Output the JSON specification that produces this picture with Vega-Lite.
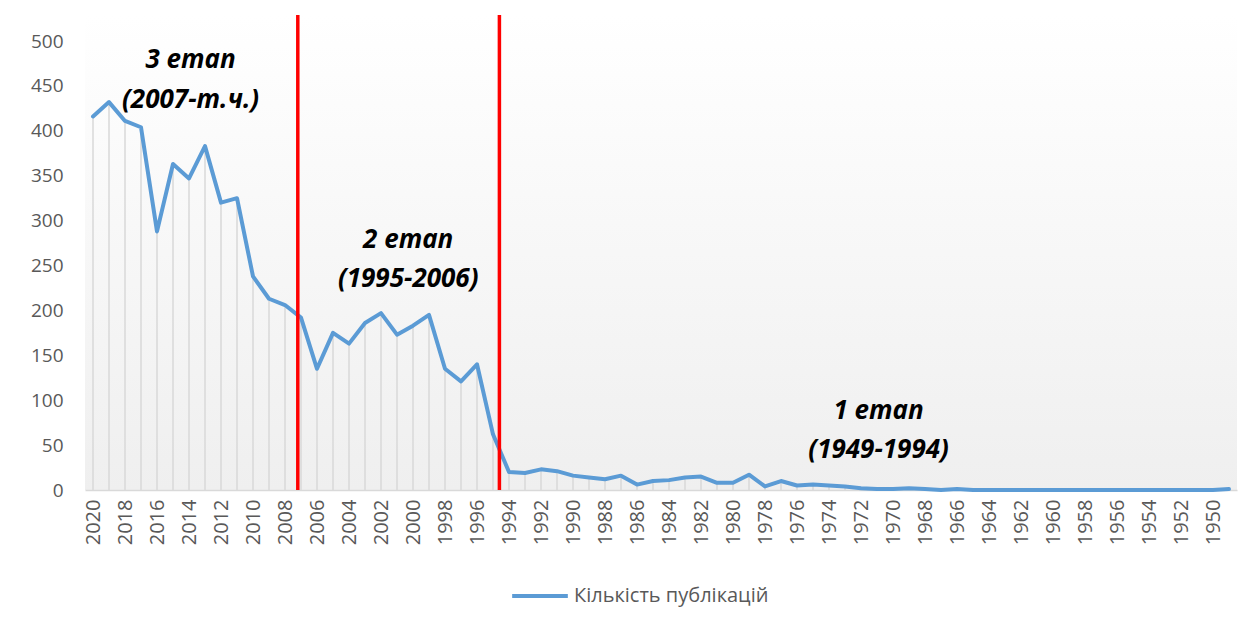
{
  "$schema": "https://vega.github.io/schema/vega-lite/v6.json",
  "width": 1152,
  "height": 475,
  "autosize": "none",
  "padding": {"left": 85, "top": 15, "right": 18, "bottom": 138},
  "background": "#ffffff",
  "config": {
    "view": {"stroke": null, "fill": {"gradient": "linear", "x1": 0, "y1": 0, "x2": 0, "y2": 1, "stops": [{"offset": 0, "color": "#ffffff"}, {"offset": 1, "color": "#efefef"}]}},
    "font": "Open Sans",
    "axisX": {"labelAngle": -90, "labelFontSize": 20, "labelColor": "#595959", "labelPadding": 9, "ticks": false, "domainColor": "#d9d9d9", "domainWidth": 1.5, "grid": false, "labelOverlap": false, "labelFlush": false, "title": null}
  },
  "datasets": {
    "pubs": [
      {"year": 2020, "count": 416}, {"year": 2019, "count": 432}, {"year": 2018, "count": 411}, {"year": 2017, "count": 404},
      {"year": 2016, "count": 288}, {"year": 2015, "count": 363}, {"year": 2014, "count": 347}, {"year": 2013, "count": 383},
      {"year": 2012, "count": 320}, {"year": 2011, "count": 325}, {"year": 2010, "count": 238}, {"year": 2009, "count": 213},
      {"year": 2008, "count": 206}, {"year": 2007, "count": 192}, {"year": 2006, "count": 135}, {"year": 2005, "count": 175},
      {"year": 2004, "count": 163}, {"year": 2003, "count": 186}, {"year": 2002, "count": 197}, {"year": 2001, "count": 173},
      {"year": 2000, "count": 183}, {"year": 1999, "count": 195}, {"year": 1998, "count": 135}, {"year": 1997, "count": 121},
      {"year": 1996, "count": 140}, {"year": 1995, "count": 62}, {"year": 1994, "count": 20}, {"year": 1993, "count": 19},
      {"year": 1992, "count": 23}, {"year": 1991, "count": 21}, {"year": 1990, "count": 16}, {"year": 1989, "count": 14},
      {"year": 1988, "count": 12}, {"year": 1987, "count": 16}, {"year": 1986, "count": 6}, {"year": 1985, "count": 10},
      {"year": 1984, "count": 11}, {"year": 1983, "count": 14}, {"year": 1982, "count": 15}, {"year": 1981, "count": 8},
      {"year": 1980, "count": 8}, {"year": 1979, "count": 17}, {"year": 1978, "count": 4}, {"year": 1977, "count": 10},
      {"year": 1976, "count": 5}, {"year": 1975, "count": 6}, {"year": 1974, "count": 5}, {"year": 1973, "count": 4},
      {"year": 1972, "count": 2}, {"year": 1971, "count": 1}, {"year": 1970, "count": 1}, {"year": 1969, "count": 2},
      {"year": 1968, "count": 1}, {"year": 1967, "count": 0}, {"year": 1966, "count": 1}, {"year": 1965, "count": 0},
      {"year": 1964, "count": 0}, {"year": 1963, "count": 0}, {"year": 1962, "count": 0}, {"year": 1961, "count": 0},
      {"year": 1960, "count": 0}, {"year": 1959, "count": 0}, {"year": 1958, "count": 0}, {"year": 1957, "count": 0},
      {"year": 1956, "count": 0}, {"year": 1955, "count": 0}, {"year": 1954, "count": 0}, {"year": 1953, "count": 0},
      {"year": 1952, "count": 0}, {"year": 1951, "count": 0}, {"year": 1950, "count": 0}, {"year": 1949, "count": 1}
    ],
    "dividers": [{"year": 2007.2}, {"year": 1994.6}],
    "labels": [
      {"year": 2013.9, "count": 479, "label": "3 етап"},
      {"year": 2013.9, "count": 434, "label": "(2007-т.ч.)"},
      {"year": 2000.3, "count": 278, "label": "2 етап"},
      {"year": 2000.3, "count": 235, "label": "(1995-2006)"},
      {"year": 1970.9, "count": 88, "label": "1 етап"},
      {"year": 1970.9, "count": 45, "label": "(1949-1994)"}
    ]
  },
  "encoding": {
    "x": {"field": "year", "type": "quantitative", "scale": {"domain": [2020.5, 1948.5], "nice": false, "zero": false},
      "axis": {"title": null, "values": [2020, 2018, 2016, 2014, 2012, 2010, 2008, 2006, 2004, 2002, 2000, 1998, 1996, 1994, 1992, 1990, 1988, 1986, 1984, 1982, 1980, 1978, 1976, 1974, 1972, 1970, 1968, 1966, 1964, 1962, 1960, 1958, 1956, 1954, 1952, 1950],
        "format": "d", "labelOverlap": false}},
    "y": {"field": "count", "type": "quantitative", "scale": {"domain": [0, 529], "nice": false},
      "axis": {"title": null, "values": [0, 50, 100, 150, 200, 250, 300, 350, 400, 450, 500], "labelFontSize": 19, "labelColor": "#595959",
        "labelPadding": 22, "ticks": false, "domain": false, "grid": false}}
  },
  "layer": [
    {
      "data": {"name": "pubs"},
      "mark": {"type": "rule", "color": "#d9d9d9", "strokeWidth": 1.5},
      "encoding": {"y2": {"datum": 0}}
    },
    {
      "data": {"name": "pubs"},
      "mark": {"type": "line", "strokeWidth": 4, "strokeJoin": "round", "strokeCap": "round"},
      "encoding": {
        "color": {"datum": "Кількість публікацій", "type": "nominal", "scale": {"range": ["#5b9bd5"]},
          "legend": {"title": null, "orient": "none", "legendX": 425, "legendY": 551, "symbolType": "stroke", "symbolSize": 3100,
            "symbolStrokeWidth": 4, "labelFontSize": 20, "labelColor": "#595959", "labelOffset": 4, "labelLimit": 0}}
      }
    },
    {
      "data": {"name": "dividers"},
      "mark": {"type": "rule", "color": "#ff0000", "strokeWidth": 3.5},
      "encoding": {"y": null}
    },
    {
      "data": {"name": "labels"},
      "mark": {"type": "text", "fontSize": 26, "fontWeight": "bold", "fontStyle": "italic", "color": "#000000", "align": "center", "baseline": "middle"},
      "encoding": {"text": {"field": "label"}}
    }
  ]
}
